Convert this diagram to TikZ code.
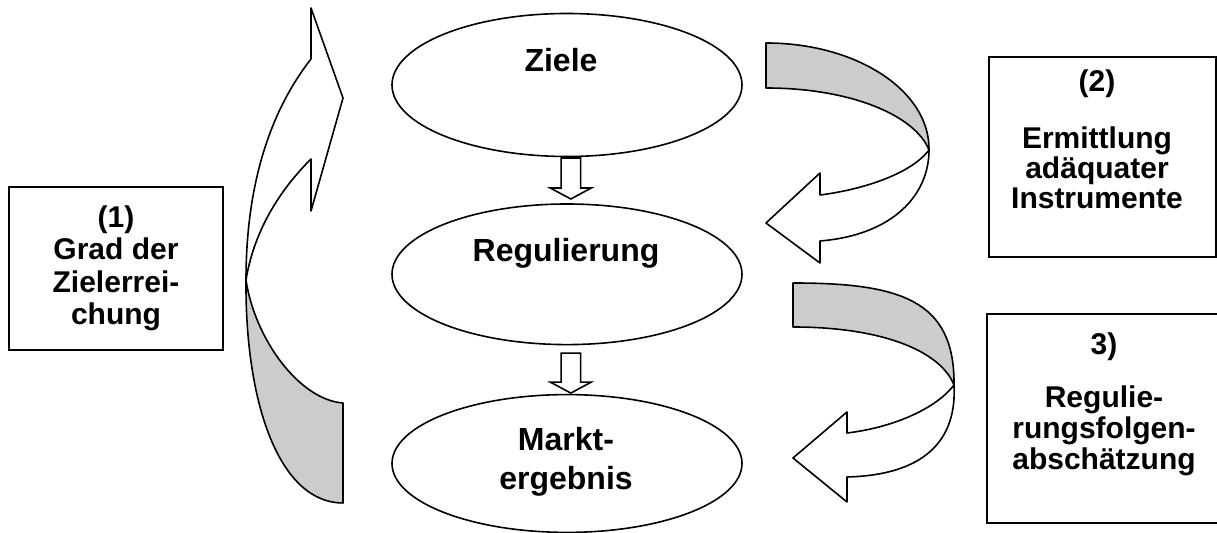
\documentclass[tikz,border=0pt]{standalone}
\usepackage{fontspec}
\setmainfont{Liberation Sans}
\usepackage{xcolor}
\usepackage{tikz}
\usetikzlibrary{shapes.geometric, calc}
\definecolor{bandgray}{gray}{0.8}

\begin{document}
\begin{tikzpicture}[x=0.5pt, y=-0.5pt,
        stage/.style={ellipse, draw, line width=0.8pt, inner sep=0pt, outer sep=0pt, minimum width=175pt},
        stagetext/.style={font=\bfseries\fontsize{16}{19.5}\selectfont, align=center, inner sep=0pt},
        infobox/.style={draw, line width=0.8pt, inner sep=0pt, outer sep=0pt, anchor=north west},
        boxtext/.style={font=\bfseries\fontsize{15}{#1}\selectfont, align=center, inner sep=0pt},
        blockarr/.style={draw, line width=0.8pt, fill=white, line join=miter},
        band/.style={draw, line width=0.8pt, line join=round}]
        \useasboundingbox (0,0) rectangle (1217,533);

        % Stages in the middle
        \node[stage, minimum height=71.5pt] (ziele) at (567,85) {};
        \node[stage, minimum height=70.3pt] (reg) at (567,274.3) {};
        \node[stage, minimum height=68.9pt] (markt) at (567,463.5) {};
        \node[stagetext] (ziele-t) at (561,60.3) {Ziele};
        \node[stagetext] (reg-t) at (566,253.7) {Regulierung};
        \node[stagetext] (markt-t) at (566,462) {Markt-\\ergebnis};

        % Block arrows between the stages
        \foreach \a/\b/\s/\e in {ziele/reg/1.5/5, reg/markt/8.5/1.5} {
                \coordinate (top) at ($(\a.south)+(3.8,\s)$);
                \coordinate (tip) at ($(\b.north)+(3.8,-\e)$);
                \draw[blockarr] ($(top)+(-9.75,0)$) -- ($(top)+(9.75,0)$) -- ($(tip)+(9.75,-11)$)
                    -- ($(tip)+(20.5,-11)$) -- (tip) -- ($(tip)+(-20.5,-11)$) -- ($(tip)+(-9.75,-11)$) -- cycle;
            }

        % Feedback arrow on the left
        \draw[band, fill=bandgray] (246,280) .. controls (245,405) and (280,503) .. (343,503)
            -- (343,403) .. controls (300,400) and (255,340) .. (246,280) -- cycle;
        \draw[band, fill=white] (311,59) -- (311,8) -- (343,98) -- (311,211) -- (311,159)
            .. controls (285,185) and (255,225) .. (246,280)
            .. controls (246,175) and (275,105) .. (311,59) -- cycle;

        % Upper arrow on the right
        \draw[band, fill=bandgray] (766,43) .. controls (857,43) and (930,91) .. (929,150)
            .. controls (915,115) and (850,88) .. (766,88) -- cycle;
        \draw[band, fill=white] (929,150) .. controls (929,195) and (893,235) .. (820,241)
            -- (820,263) -- (766,223) -- (820,173) -- (820,195)
            .. controls (860,190) and (910,175) .. (929,150) -- cycle;

        % Lower arrow on the right
        \draw[band, fill=bandgray] (793,283) .. controls (900,283) and (955,300) .. (954,385)
            .. controls (940,350) and (880,327) .. (793,327) -- cycle;
        \draw[band, fill=white] (954,385) .. controls (957,440) and (925,475) .. (847,477)
            -- (847,502) -- (793,458) -- (847,412) -- (847,433)
            .. controls (890,428) and (935,410) .. (954,385) -- cycle;

        % Text boxes
        \node[infobox, minimum width=107pt, minimum height=81.5pt] (grad) at (9,187) {};
        \node[boxtext=16.3pt] (grad-t) at (116,268.3) {(1)\\Grad der\\Zielerrei-\\chung};
        \node[infobox, minimum width=113.5pt, minimum height=100pt] (instr) at (989,57) {};
        \node[boxtext=15pt] (instr-t) at (1097,139.6) {(2)\\[13.5pt]Ermittlung\\adäquater\\Instrumente};
        \node[infobox, minimum width=118.5pt, minimum height=104.5pt] (folgen) at (987,314) {};
        \node[boxtext=15.5pt] (folgen-t) at (1104,404.7) {3)\\[11pt]Regulie-\\rungsfolgen-\\abschätzung};
    \end{tikzpicture}
\end{document}
